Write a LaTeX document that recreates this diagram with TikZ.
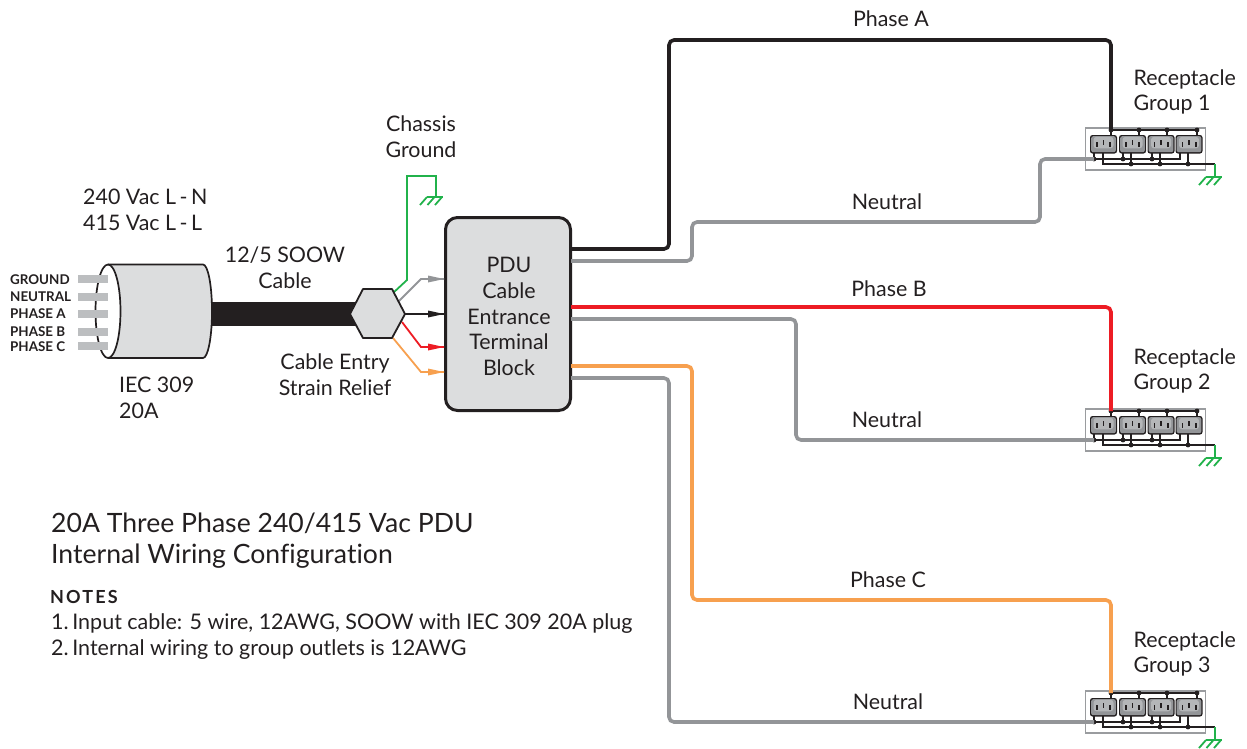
\documentclass[tikz,border=0pt]{standalone}
\usepackage{fontspec}
\setmainfont{Lato}[Ligatures=NoCommon]
\usetikzlibrary{calc}
\definecolor{ink}{HTML}{231F20}
\definecolor{boxfill}{HTML}{DCDDDE}
\definecolor{wiregray}{HTML}{939598}
\definecolor{bargray}{HTML}{BCBEC0}
\definecolor{wirered}{HTML}{ED1C24}
\definecolor{wireorange}{HTML}{F7A04F}
\definecolor{wiregreen}{HTML}{21B24B}
\definecolor{barGrp}{HTML}{9A9C9F}
\definecolor{outletmid}{HTML}{B4B6B8}
\tikzset{
  wire/.style={line width=3.6pt,rounded corners=5pt},
  lab/.style={font=\fontsize{21.4}{25.8}\selectfont,text=ink,inner sep=0pt,align=left},
  labc/.style={lab,align=center},
  bar/.style={fill=bargray,draw=none},
  tag/.style={font=\fontsize{13.4}{14}\selectfont\bfseries,text=ink,inner sep=0pt,anchor=west},
  gnd/.style={wiregreen,line width=1.8pt},
  bus/.style={ink,line width=1.2pt},
  dotm/.style={circle,fill=ink,inner sep=0pt,minimum size=4.8pt},
}
\newcommand{\gndmark}[1]{%
  \draw[gnd] ($(#1)+(-9,0)$) -- ($(#1)+(7,0)$);
  \foreach \q in {-9,-1.5,6}{\draw[gnd] ($(#1)+(\q,0)$) -- ($(#1)+(\q-7,8)$);}
}
\newcommand{\outlet}[1]{%
  \fill[ink,rounded corners=2.5pt] (#1,135) rectangle ++(27,18.5);
  \fill[wiregray,rounded corners=2pt] (#1+1.2,136.2) rectangle ++(24.6,16);
  \fill[outletmid,rounded corners=3pt] (#1+3.5,136.8) rectangle ++(20,11.5);
  \fill[ink] (#1+12.6,139.5) rectangle ++(1.8,5);
  \fill[ink] (#1+6,142) rectangle ++(1.8,5);
  \fill[ink] (#1+19.2,142) rectangle ++(1.8,5);
}
\newcommand{\recgroup}[2]{%
  \begin{scope}[yshift=-#2pt]
    \node[draw=barGrp,line width=1.7pt,inner sep=0pt,minimum width=120pt,minimum height=42pt] (#1box) at (1145.5,149) {};
    \outlet{1090}\outlet{1119}\outlet{1147.5}\outlet{1175.5}
    \draw[bus,line width=1.5pt] (1111,130) -- (1197,130);
    \foreach \q in {1111,1139,1167,1197}{\draw[bus] (\q,130) -- (\q,135);\node[dotm] at (\q,130) {};}
    \draw[bus,line width=1.5pt] (1094,159) -- (1180,159) -- (1180,153);
    \draw[bus,line width=1.5pt] (1103,153) -- (1103,164) -- (1215,164);
    \foreach \q in {1094,1123,1152}{\draw[bus] (\q,153) -- (\q,159);\node[dotm] at (\q,159) {};}
    \foreach \q in {1131,1160,1188}{\draw[bus] (\q,153) -- (\q,164);\node[dotm] at (\q,164) {};}
    \coordinate (#1hot) at (1111,130);
    \coordinate (#1neu) at (1094,159);
    \coordinate (#1top) at (1215,164);
    \coordinate (#1g) at (1215,177);
    \draw[gnd] (#1top) -- (#1g);
    \gndmark{#1g}
  \end{scope}
}
\begin{document}
\begin{tikzpicture}[x=1pt,y=-1pt]
\useasboundingbox (0,0) rectangle (1247,748);

% plug
\fill[ink] (205,302) rectangle (358,326);
\draw[ink,line width=1.7pt,fill=boxfill] (108,264.5) -- (203,264.5) arc[start angle=-90,end angle=90,x radius=9,y radius=46.75] -- (108,358);
\draw[ink,line width=1.7pt,fill=white] (108,311.25) ellipse[x radius=12.5,y radius=46.75];
\foreach \yy in {279,297,314,332,346}{\fill[bar] (78,\yy-4) rectangle (108,\yy+4);}
\node[tag] (tg) at (10,279.5) {GROUND};
\node[tag] (tn) at (10,297) {NEUTRAL};
\node[tag] (ta) at (10,314) {PHASE A};
\node[tag] (tb) at (10,332) {PHASE B};
\node[tag] (tc) at (10,347) {PHASE C};

% PDU
\node[draw=ink,fill=boxfill,line width=3pt,rounded corners=12pt,minimum width=125pt,minimum height=193pt,inner sep=0pt] (pdu) at (508,314) {};
\node[labc] (pdut) at (509,316.5) {PDU\\Cable\\Entrance\\Terminal\\Block};

% coordinates on the box
\coordinate (oa) at (571,249);
\coordinate (ona) at (571,261);
\coordinate (ob) at (571,307);
\coordinate (onb) at (571,319);
\coordinate (oc) at (571,366);
\coordinate (onc) at (571,378);
\coordinate (ig) at (444,279);
\coordinate (ik) at (444,314);
\coordinate (ir) at (444,347);
\coordinate (io) at (444,372);

% strain relief wires
\coordinate (hg) at (393,293);
\coordinate (hh) at (399,301);
\coordinate (hk) at (404,314);
\coordinate (hr) at (402,322);
\coordinate (ho) at (393,338);
\coordinate (cg) at (436,197);
\draw[gnd] (hg) -- (407,280) -- (407,176) -- (436,176) -- (cg);
\gndmark{cg}
\draw[wiregray,line width=1.8pt] (hh) -- (421,279) -- (ig);
\draw[ink,line width=1.8pt] (hk) -- (ik);
\draw[wirered,line width=1.8pt] (hr) -- (421,347) -- (ir);
\draw[wireorange,line width=1.8pt] (ho) -- (421,372) -- (io);
\fill[wiregray] (428,275.5) -- (ig) -- (428,282.5) -- cycle;
\fill[ink] (428,310.5) -- (ik) -- (428,317.5) -- cycle;
\fill[wirered] (428,343.5) -- (ir) -- (428,350.5) -- cycle;
\fill[wireorange] (428,368.5) -- (io) -- (428,375.5) -- cycle;
% hexagon
\draw[ink,line width=1.8pt,fill=boxfill,line join=round] (350,314) -- (363,289) -- (392,289) -- (405,314) -- (392,338) -- (363,338) -- cycle;

% receptacle groups
\recgroup{ra}{0}
\recgroup{rb}{281}
\recgroup{rc}{563}

% main wires
\draw[wire,wiregray] (ona) -- (692,261) -- (692,222) -- (1040,222) -- (1040,159) -- (raneu);
\draw[wire,ink] (oa) -- (669,249) -- (669,40) -- (1111,40) -- (rahot);
\draw[wire,wiregray] (onb) -- (796,319) -- (796,440) -- (rbneu);
\draw[wire,wirered] (ob) -- (1111,307) -- (rbhot);
\draw[wire,wiregray] (onc) -- (669,378) -- (669,722) -- (rcneu);
\draw[wire,wireorange] (oc) -- (692,366) -- (692,600) -- (1111,600) -- (rchot);

% labels
\node[lab,anchor=west] (volts) at (83,210) {240 Vac L\,-\,N\\415 Vac L\,-\,L};
\node[labc] (soow) at (285,268) {12/5 SOOW\\Cable};
\node[labc] (chas) at (421,137) {Chassis\\Ground};
\node[labc] (strain) at (335,375) {Cable Entry\\Strain Relief};
\node[lab,anchor=west] (iec) at (119,398) {IEC 309\\20A};
\node[lab,anchor=west] (g1) at (1133.5,92) {Receptacle\\Group 1};
\node[lab,anchor=west] (g2) at (1133.5,371) {Receptacle\\Group 2};
\node[lab,anchor=west] (g3) at (1133.5,654) {Receptacle\\Group 3};
\node[lab] (pa) at (891,19) {Phase A};
\node[lab] (na) at (887,202) {Neutral};
\node[lab] (pb) at (889,289) {Phase B};
\node[lab] (nb) at (887,420) {Neutral};
\node[lab] (pc) at (888,580) {Phase C};
\node[lab] (nc) at (888,702) {Neutral};
\node[lab,anchor=west,font=\fontsize{26.6}{31}\selectfont] (title) at (51,541) {20A Three Phase 240/415 Vac PDU\\Internal Wiring Configuration};
\node[lab,anchor=west,font=\fontsize{18}{22}\selectfont\bfseries\addfontfeature{LetterSpace=12}] (notes) at (50,597) {NOTES};
\node[lab,anchor=west,font=\fontsize{21.5}{26}\selectfont] (nl) at (51,637) {1.\,Input cable: 5 wire, 12AWG, SOOW with IEC 309 20A plug\\2.\,Internal wiring to group outlets is 12AWG};
\end{tikzpicture}
\end{document}
